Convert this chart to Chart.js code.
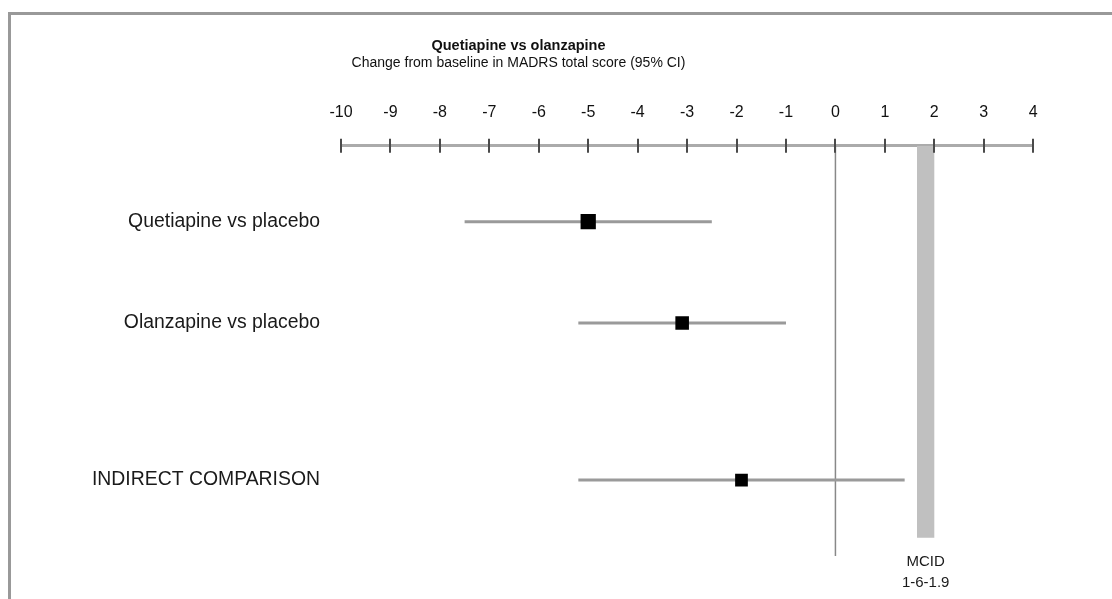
<!DOCTYPE html>
<html>
<head>
<meta charset="utf-8">
<title>Quetiapine vs olanzapine</title>
<script src="https://cdn.jsdelivr.net/npm/chart.js@4.4.1/dist/chart.umd.min.js"></script>
<style>
    body { margin: 0; background: #fff; overflow: hidden; }
    #frame {
        position: absolute; left: 8px; top: 12px; width: 2000px; height: 2000px;
        border-left: 3px solid #999; border-top: 3px solid #999;
    }
    #forest { position: absolute; left: 0; top: 0; }
</style>
</head>
<body>
<div id="frame"></div>
<canvas id="forest" width="1044" height="599"></canvas>
<script>
/* ------------------------------- data ------------------------------- */

let rowNames = ['Quetiapine vs placebo', 'Olanzapine vs placebo', 'INDIRECT COMPARISON']
let rowPos = [1, 2, 3.55]
let estimate = [-5.0, -3.1, -1.9]
let ciLow = [-7.5, -5.2, -5.2]
let ciHigh = [-2.5, -1.0, 1.4]
let markSize = [10.8, 9.6, 9.0]

let xTicks = [-10, -9, -8, -7, -6, -5, -4, -3, -2, -1, 0, 1, 2, 3, 4]
let mcidRange = [1.65, 2.0]
let mcidLabel = ['MCID', '1-6-1.9']

let yTop = 0.25
let yBottom = 4.3
let mcidBottom = 4.12

let sans = "'Liberation Sans', Arial, sans-serif"

/* ----------------------------- datasets ----------------------------- */

let datasets = []

datasets.push({
    label: 'estimate',
    data: rowPos.map((y, i) => ({ x: estimate[i], y: y })),
    pointStyle: 'rect',
    pointRadius: markSize,
    backgroundColor: '#000',
    borderColor: '#000',
    borderWidth: 0
})

rowPos.forEach((y, i) => {
    datasets.push({
        label: 'ci ' + i,
        data: [{ x: ciLow[i], y: y }, { x: ciHigh[i], y: y }],
        showLine: true,
        pointRadius: 0,
        borderColor: '#9a9a9a',
        borderWidth: 3
    })
})

datasets.push({
    label: 'zero',
    data: [{ x: 0, y: yTop }, { x: 0, y: yBottom }],
    showLine: true,
    pointRadius: 0,
    borderColor: '#888',
    borderWidth: 1.5
})

datasets.push({
    label: 'mcid',
    data: [
        { x: mcidRange[0], y: yTop },
        { x: mcidRange[1], y: yTop },
        { x: mcidRange[1], y: mcidBottom },
        { x: mcidRange[0], y: mcidBottom }
    ],
    showLine: true,
    fill: 'shape',
    pointRadius: 0,
    borderWidth: 0,
    borderColor: 'rgba(0,0,0,0)',
    backgroundColor: '#c0c0c0'
})

/* ------------------------------ plugins ----------------------------- */

// tick marks that cross the axis line
let crossTicks = {
    id: 'crossTicks',
    afterDraw(chart) {
        let ctx = chart.ctx
        let xs = chart.scales.x
        let top = chart.chartArea.top
        ctx.save()
        ctx.strokeStyle = '#4a4a4a'
        ctx.lineWidth = 2
        xs.ticks.forEach(t => {
            let px = Math.round(xs.getPixelForValue(t.value))
            ctx.beginPath()
            ctx.moveTo(px, top - 7)
            ctx.lineTo(px, top + 7)
            ctx.stroke()
        })
        ctx.restore()
    }
}

// MCID caption under the grey band
let mcidText = {
    id: 'mcidText',
    afterDraw(chart) {
        let ctx = chart.ctx
        let px = chart.scales.x.getPixelForValue((mcidRange[0] + mcidRange[1]) / 2)
        let py = chart.scales.y.getPixelForValue(mcidBottom)
        ctx.save()
        ctx.fillStyle = '#1a1a1a'
        ctx.font = '15px ' + sans
        ctx.textAlign = 'center'
        ctx.textBaseline = 'middle'
        ctx.fillText(mcidLabel[0], px, py + 24)
        ctx.fillText(mcidLabel[1], px, py + 45)
        ctx.restore()
    }
}

/* ------------------------------- chart ------------------------------ */

let forest = document.querySelector('#forest')

new Chart(forest, {
    type: 'scatter',
    data: { datasets: datasets },
    plugins: [crossTicks, mcidText],
    options: {
        responsive: false,
        animation: false,
        events: [],
        layout: { padding: { left: 0, right: 7, top: 0, bottom: 43 } },
        plugins: {
            legend: { display: false },
            tooltip: { enabled: false },
            title: {
                display: true,
                text: 'Quetiapine vs olanzapine',
                color: '#111',
                font: { family: sans, size: 14.5, weight: 'bold', lineHeight: 1 },
                padding: { top: 38.5, bottom: 0 }
            },
            subtitle: {
                display: true,
                text: 'Change from baseline in MADRS total score (95% CI)',
                color: '#111',
                font: { family: sans, size: 14, lineHeight: 1 },
                padding: { top: 3.5, bottom: 29.5 }
            }
        },
        scales: {
            x: {
                type: 'linear',
                position: 'top',
                min: xTicks[0],
                max: xTicks[xTicks.length - 1],
                afterBuildTicks: scale => { scale.ticks = xTicks.map(v => ({ value: v })) },
                grid: { display: false, drawTicks: true, tickLength: 20.5 },
                border: { display: true, color: '#ababab', width: 3 },
                ticks: {
                    padding: 3,
                    color: '#111',
                    font: { family: sans, size: 16 }
                }
            },
            y: {
                type: 'linear',
                reverse: true,
                min: yTop,
                max: yBottom,
                afterFit: scale => { scale.width = 341 },
                afterBuildTicks: scale => { scale.ticks = rowPos.map(v => ({ value: v })) },
                grid: { display: false, drawTicks: false },
                border: { display: false },
                ticks: {
                    padding: 21,
                    color: '#1a1a1a',
                    font: { family: sans, size: 19.4 },
                    callback: (v) => rowNames[rowPos.indexOf(v)]
                }
            }
        }
    }
})
</script>
</body>
</html>
